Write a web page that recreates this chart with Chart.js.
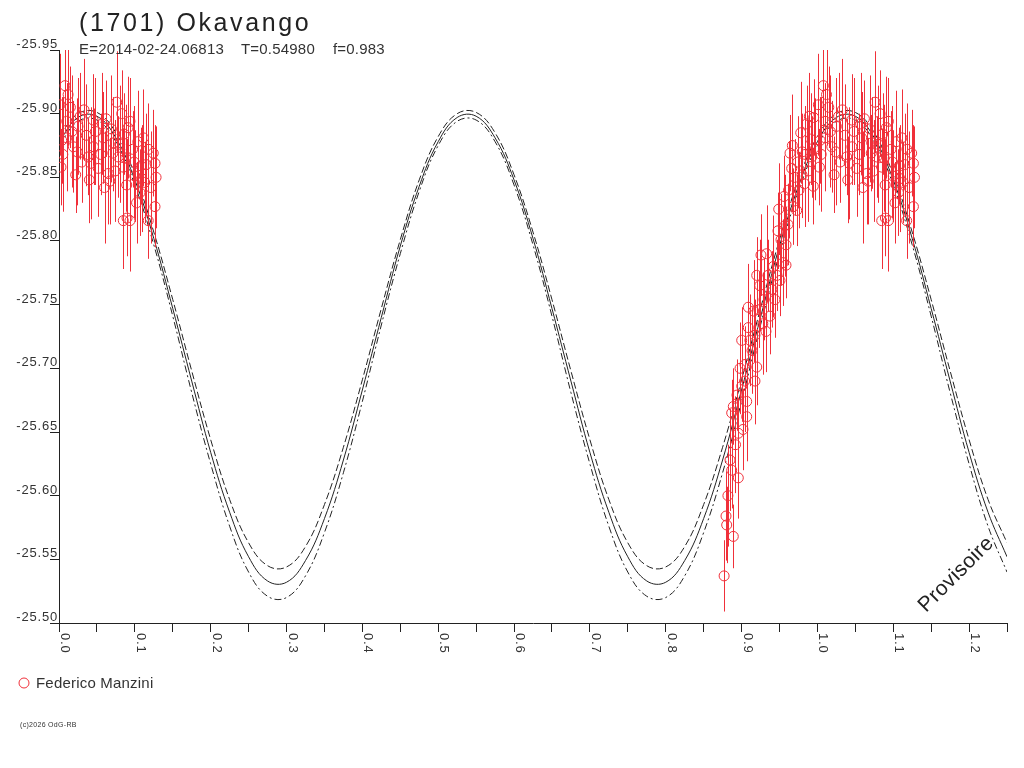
<!DOCTYPE html>
<html>
<head>
<meta charset="utf-8">
<title>(1701) Okavango</title>
<script src="https://cdn.jsdelivr.net/npm/chart.js@4.4.1/dist/chart.umd.min.js"></script>
<style>
    html, body { margin: 0; padding: 0; background: #fff; }
    #lc { display: block; }
</style>
</head>
<body>
<canvas id="lc" width="1024" height="768"></canvas>
<script>
// Axis ticks
const yTicks = [-25.95, -25.90, -25.85, -25.80, -25.75, -25.70, -25.65, -25.60, -25.55, -25.50];
const xLabels = [0.0, 0.1, 0.2, 0.3, 0.4, 0.5, 0.6, 0.7, 0.8, 0.9, 1.0, 1.1, 1.2];
const xTickMarks = [0, 0.05, 0.1, 0.15, 0.2, 0.25, 0.3, 0.35, 0.4, 0.45, 0.5, 0.55, 0.6, 0.65,
    0.7, 0.75, 0.8, 0.85, 0.9, 0.95, 1.0, 1.05, 1.1, 1.15, 1.2, 1.25];

// Model curves (phase -> magnitude)
const modelPhase = [0, 0.025, 0.05, 0.075, 0.1, 0.125, 0.15, 0.175, 0.2, 0.225,
    0.25, 0.275, 0.3, 0.325, 0.35, 0.375, 0.4, 0.425, 0.45, 0.475,
    0.5, 0.525, 0.55, 0.575, 0.6, 0.625, 0.65, 0.675, 0.7, 0.725,
    0.75, 0.775, 0.8, 0.825, 0.85, 0.875, 0.9, 0.925, 0.95, 0.975,
    1.0, 1.025, 1.05, 1.075, 1.1, 1.125, 1.15, 1.175, 1.2, 1.225, 1.25];
const modelMid = [-25.878, -25.897, -25.898, -25.881, -25.848, -25.802, -25.747, -25.690, -25.634, -25.587,
    -25.552, -25.533, -25.532, -25.549, -25.582, -25.628, -25.683, -25.740, -25.796, -25.843,
    -25.878, -25.897, -25.898, -25.881, -25.848, -25.802, -25.747, -25.690, -25.634, -25.587,
    -25.552, -25.533, -25.532, -25.549, -25.582, -25.628, -25.683, -25.740, -25.796, -25.843,
    -25.878, -25.897, -25.898, -25.881, -25.848, -25.802, -25.747, -25.690, -25.634, -25.587, -25.552];
const modelUpper = [-25.882, -25.900, -25.901, -25.885, -25.852, -25.807, -25.754, -25.698, -25.644, -25.597,
    -25.563, -25.545, -25.544, -25.560, -25.593, -25.638, -25.691, -25.747, -25.801, -25.848,
    -25.882, -25.900, -25.901, -25.885, -25.852, -25.807, -25.754, -25.698, -25.644, -25.597,
    -25.563, -25.545, -25.544, -25.560, -25.593, -25.638, -25.691, -25.747, -25.801, -25.848,
    -25.882, -25.900, -25.901, -25.885, -25.852, -25.807, -25.754, -25.698, -25.644, -25.597, -25.563];
const modelLower = [-25.875, -25.894, -25.895, -25.878, -25.844, -25.797, -25.741, -25.681, -25.625, -25.576,
    -25.540, -25.521, -25.520, -25.537, -25.571, -25.618, -25.674, -25.734, -25.790, -25.839,
    -25.875, -25.894, -25.895, -25.878, -25.844, -25.797, -25.741, -25.681, -25.625, -25.576,
    -25.540, -25.521, -25.520, -25.537, -25.571, -25.618, -25.674, -25.734, -25.790, -25.839,
    -25.875, -25.894, -25.895, -25.878, -25.844, -25.797, -25.741, -25.681, -25.625, -25.576, -25.540];

// Observations (phase in 0..1, magnitude, error)
const obsPhase = [
    0.0013, 0.0026, 0.0036, 0.0079, 0.0102, 0.0103, 0.0150, 0.0190, 0.0220, 0.0250,
    0.0280, 0.0300, 0.0360, 0.0386, 0.0400, 0.0450, 0.0455, 0.0518, 0.0550, 0.0584,
    0.0620, 0.0650, 0.0670, 0.0710, 0.0716, 0.0761, 0.0782, 0.0827, 0.0848, 0.0848,
    0.0860, 0.0893, 0.0897, 0.0936, 0.0936, 0.0970, 0.1000, 0.1023, 0.1068, 0.1081,
    0.1114, 0.1130, 0.1177, 0.1180, 0.1243, 0.1266, 0.1266,
    0.0050, 0.0120, 0.0170, 0.0240, 0.0330, 0.0420, 0.0480, 0.0570, 0.0600, 0.0690,
    0.0740, 0.0800, 0.0880, 0.0910, 0.0990, 0.1040, 0.1090, 0.1150, 0.1210, 0.1280,
    0.8770, 0.8795, 0.8804, 0.8891, 0.8848, 0.8870, 0.8957, 0.8957, 0.8870, 0.8891,
    0.9068, 0.9068, 0.9002, 0.9177, 0.9200, 0.9002, 0.9089, 0.9177, 0.9322, 0.9375,
    0.9089, 0.9200, 0.9256, 0.9440, 0.9507, 0.9547, 0.9586, 0.9520, 0.9467, 0.9612,
    0.9757, 0.9797, 0.9586, 0.9401, 0.9296, 0.9348, 0.9230, 0.9138, 0.9045, 0.8940,
    0.9019, 0.9639, 0.9661, 0.9682, 0.9727, 0.9925, 0.9946, 0.9859, 0.9893, 0.9951,
    0.9800, 0.9830, 0.9700, 0.9560, 0.9480,
    0.8820, 0.8920, 0.8980, 0.9040, 0.9110, 0.9160, 0.9240, 0.9280, 0.9330, 0.9420,
    0.9490, 0.9570, 0.9620, 0.9670, 0.9740, 0.9780, 0.9840, 0.9880, 0.9910, 0.9970];
const obsMag = [
    -25.907, -25.858, -25.879, -25.922, -25.894, -25.881, -25.905, -25.874, -25.852, -25.890,
    -25.898, -25.862, -25.883, -25.866, -25.848, -25.895, -25.874, -25.857, -25.868, -25.881,
    -25.896, -25.853, -25.847, -25.869, -25.877, -25.909, -25.866, -25.900, -25.858, -25.816,
    -25.884, -25.844, -25.818, -25.894, -25.816, -25.872, -25.851, -25.830, -25.838, -25.859,
    -25.881, -25.846, -25.816, -25.872, -25.869, -25.861, -25.827,
    -25.868, -25.915, -25.886, -25.870, -25.903, -25.861, -25.886, -25.892, -25.842, -25.888,
    -25.855, -25.876, -25.865, -25.889, -25.862, -25.878, -25.849, -25.860, -25.842, -25.850,
    -25.537, -25.584, -25.577, -25.568, -25.628, -25.620, -25.614, -25.649, -25.665, -25.670,
    -25.662, -25.674, -25.686, -25.690, -25.701, -25.722, -25.732, -25.726, -25.729, -25.741,
    -25.748, -25.773, -25.789, -25.754, -25.769, -25.783, -25.797, -25.801, -25.773, -25.813,
    -25.840, -25.852, -25.781, -25.762, -25.754, -25.773, -25.746, -25.714, -25.703, -25.679,
    -25.652, -25.869, -25.857, -25.827, -25.824, -25.866, -25.843, -25.892, -25.898, -25.897,
    -25.870, -25.845, -25.850, -25.835, -25.808,
    -25.600, -25.640, -25.700, -25.690, -25.722, -25.745, -25.765, -25.735, -25.790, -25.780,
    -25.825, -25.812, -25.840, -25.875, -25.862, -25.885, -25.868, -25.855, -25.880, -25.872];
const obsErr = [
    0.040, 0.030, 0.034, 0.036, 0.030, 0.042, 0.032, 0.036, 0.030, 0.038,
    0.034, 0.032, 0.040, 0.030, 0.034, 0.036, 0.030, 0.038, 0.032, 0.036,
    0.030, 0.040, 0.034, 0.030, 0.036, 0.040, 0.032, 0.034, 0.030, 0.038,
    0.032, 0.036, 0.030, 0.034, 0.040, 0.030, 0.036, 0.032, 0.034, 0.030,
    0.038, 0.032, 0.030, 0.036, 0.034, 0.030, 0.032,
    0.045, 0.040, 0.044, 0.042, 0.040, 0.044, 0.042, 0.040, 0.044, 0.042,
    0.040, 0.046, 0.042, 0.040, 0.044, 0.040, 0.042, 0.040, 0.044, 0.040,
    0.028, 0.035, 0.030, 0.025, 0.040, 0.030, 0.032, 0.028, 0.026, 0.030,
    0.035, 0.030, 0.028, 0.034, 0.030, 0.026, 0.030, 0.028, 0.032, 0.030,
    0.034, 0.030, 0.032, 0.030, 0.028, 0.034, 0.030, 0.036, 0.028, 0.032,
    0.030, 0.034, 0.026, 0.030, 0.032, 0.028, 0.030, 0.034, 0.030, 0.028,
    0.032, 0.030, 0.034, 0.030, 0.028, 0.032, 0.030, 0.030, 0.034, 0.030,
    0.030, 0.034, 0.030, 0.032, 0.030,
    0.040, 0.038, 0.036, 0.040, 0.036, 0.040, 0.036, 0.040, 0.038, 0.040,
    0.036, 0.040, 0.038, 0.040, 0.036, 0.040, 0.038, 0.040, 0.036, 0.040];

const observer = 'Federico Manzini';
const RED = '#f0303a';
const INK = '#222';
const FONT = '"Liberation Sans", Arial, sans-serif';

document.addEventListener('DOMContentLoaded', () => {
    const xMax = xTickMarks[xTickMarks.length - 1];

    // points are shown at their phase and again one cycle later if it fits
    const points = [];
    obsPhase.forEach((p, i) => {
        points.push({ x: p, y: obsMag[i], err: obsErr[i] });
        if (p + 1 <= xMax) points.push({ x: p + 1, y: obsMag[i], err: obsErr[i] });
    });

    const curve = (ys) => modelPhase.map((p, i) => ({ x: p, y: ys[i] }));

    // error bars under the circles
    const errorBars = {
        id: 'errorBars',
        beforeDatasetDraw(chart, args) {
            const ds = chart.data.datasets[args.index];
            if (ds.label !== observer) return;
            const { ctx, chartArea: a, scales: { x, y } } = chart;
            ctx.save();
            ctx.beginPath();
            ctx.rect(a.left, a.top, a.right - a.left, a.bottom - a.top);
            ctx.clip();
            ctx.strokeStyle = RED;
            ctx.lineWidth = 1;
            ctx.beginPath();
            ds.data.forEach(d => {
                const px = Math.round(x.getPixelForValue(d.x)) + 0.5;
                ctx.moveTo(px, y.getPixelForValue(d.y - d.err));
                ctx.lineTo(px, y.getPixelForValue(d.y + d.err));
            });
            ctx.stroke();
            ctx.restore();
        }
    };

    // texts: tick labels, title, legend, watermark
    const texts = {
        id: 'texts',
        afterDraw(chart) {
            const ctx = chart.ctx;
            const xs = chart.scales.x;
            const ys = chart.scales.y;
            ctx.save();
            ctx.fillStyle = '#333';
            ctx.textBaseline = 'alphabetic';

            ctx.font = '13px ' + FONT;
            ctx.letterSpacing = '0.8px';
            ctx.textAlign = 'right';
            yTicks.forEach(v => {
                ctx.fillText(v.toFixed(2), 58, Math.round(ys.getPixelForValue(v)) - 2);
            });
            ctx.textAlign = 'left';
            xLabels.forEach(v => {
                ctx.save();
                ctx.translate(Math.round(xs.getPixelForValue(v)) + 2, 633);
                ctx.rotate(Math.PI / 2);
                ctx.fillText(v.toFixed(1), 0, 0);
                ctx.restore();
            });

            ctx.fillStyle = INK;
            ctx.font = '25px ' + FONT;
            ctx.letterSpacing = '2.6px';
            ctx.fillText('(1701) Okavango', 79, 31);

            ctx.fillStyle = '#333';
            ctx.font = '15px ' + FONT;
            ctx.letterSpacing = '0.2px';
            ctx.fillText('E=2014-02-24.06813', 79, 54);
            ctx.fillText('T=0.54980', 241, 54);
            ctx.fillText('f=0.983', 333, 54);

            // legend
            ctx.strokeStyle = RED;
            ctx.lineWidth = 1;
            ctx.beginPath();
            ctx.arc(24, 683, 5, 0, Math.PI * 2);
            ctx.stroke();
            ctx.fillText(observer, 36, 688);

            ctx.font = '7px ' + FONT;
            ctx.letterSpacing = '0.3px';
            ctx.fillText('(c)2026 OdG-RB', 20, 727);

            ctx.fillStyle = INK;
            ctx.font = '21px ' + FONT;
            ctx.letterSpacing = '0.4px';
            ctx.translate(926, 613);
            ctx.rotate(-Math.PI / 4);
            ctx.fillText('Provisoire', 0, 0);
            ctx.restore();
        }
    };

    new Chart(document.getElementById('lc'), {
        type: 'scatter',
        data: {
            datasets: [
                {
                    label: observer,
                    data: points,
                    order: 0,
                    pointStyle: 'circle',
                    pointRadius: 5,
                    pointBorderWidth: 1,
                    pointBorderColor: RED,
                    pointBackgroundColor: 'rgba(0,0,0,0)'
                },
                {
                    label: 'model',
                    data: curve(modelMid),
                    order: 1,
                    showLine: true,
                    borderColor: INK,
                    borderWidth: 1,
                    pointRadius: 0,
                    tension: 0.4
                },
                {
                    label: 'model upper',
                    data: curve(modelUpper),
                    order: 1,
                    showLine: true,
                    borderColor: INK,
                    borderWidth: 1,
                    borderDash: [7, 3],
                    pointRadius: 0,
                    tension: 0.4
                },
                {
                    label: 'model lower',
                    data: curve(modelLower),
                    order: 1,
                    showLine: true,
                    borderColor: INK,
                    borderWidth: 1,
                    borderDash: [7, 3, 2, 3],
                    pointRadius: 0,
                    tension: 0.4
                }
            ]
        },
        options: {
            responsive: false,
            animation: false,
            devicePixelRatio: 1,
            layout: { padding: { top: 50, right: 17, bottom: 0, left: 0 } },
            plugins: {
                legend: { display: false },
                tooltip: { enabled: false },
                title: { display: false }
            },
            scales: {
                x: {
                    type: 'linear',
                    min: 0,
                    max: xMax,
                    afterBuildTicks: s => { s.ticks = xTickMarks.map(v => ({ value: v })); },
                    afterFit: s => { s.height = 145; },
                    ticks: { display: false },
                    grid: { drawOnChartArea: false, drawTicks: true, tickLength: 9, color: INK },
                    border: { display: true, color: INK }
                },
                y: {
                    type: 'linear',
                    reverse: true,
                    min: yTicks[0],
                    max: yTicks[yTicks.length - 1],
                    afterBuildTicks: s => { s.ticks = yTicks.map(v => ({ value: v })); },
                    afterFit: s => { s.width = 59; },
                    ticks: { display: false },
                    grid: { drawOnChartArea: false, drawTicks: true, tickLength: 9, color: INK },
                    border: { display: true, color: INK }
                }
            }
        },
        plugins: [errorBars, texts]
    });
});
</script>
</body>
</html>
